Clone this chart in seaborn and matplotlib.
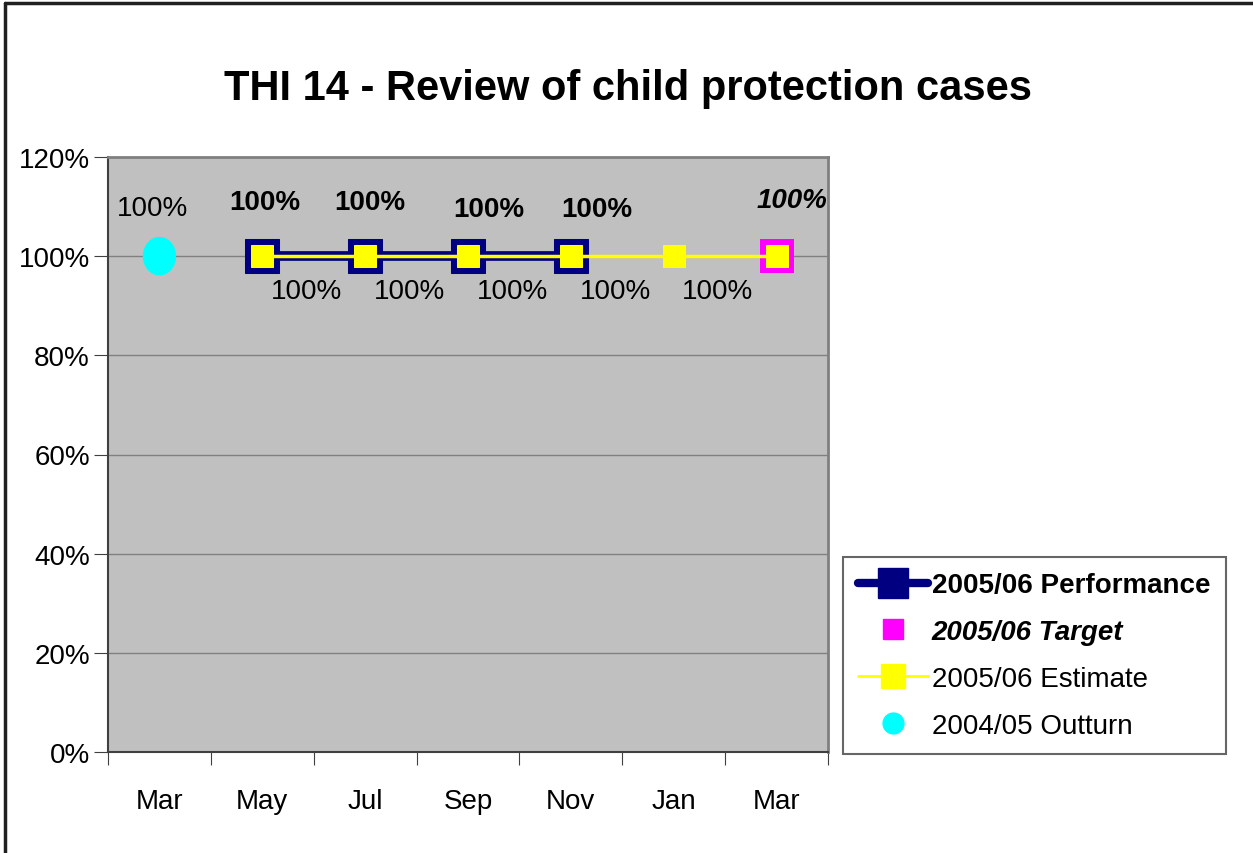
import numpy as np
import pandas as pd
import seaborn as sns
import matplotlib.pyplot as plt
from matplotlib.lines import Line2D
from matplotlib.patches import Ellipse

# datos
meses = ["Mar", "May", "Jul", "Sep", "Nov", "Jan", "Mar"]
outturn = [1.0, None, None, None, None, None, None]
performance = [None, 1.0, 1.0, 1.0, 1.0, None, None]
target = [None, None, None, None, None, None, 1.0]
estimate = [None, 1.0, 1.0, 1.0, 1.0, 1.0, 1.0]

df = pd.DataFrame({"pos": np.arange(len(meses)), "mes": meses,
                   "Outturn": outturn, "Performance": performance,
                   "Target": target, "Estimate": estimate})

sns.set_style("white")
plt.rcParams["font.family"] = ["Liberation Sans", "DejaVu Sans"]
plt.rcParams["text.color"] = "black"
plt.rcParams["xtick.color"] = "black"
plt.rcParams["ytick.color"] = "black"

fig = plt.figure(figsize=(12.53, 8.54), dpi=100)
ax = fig.add_axes([108 / 1253, 1 - 753 / 854, 720 / 1253, 595 / 854])
ax.set_facecolor("#C0C0C0")

perf = df.dropna(subset=["Performance"])
est = df.dropna(subset=["Estimate"])
out = df.dropna(subset=["Outturn"])
tgt = df.dropna(subset=["Target"])

# performance: linea azul gruesa con cuadros grandes
sns.lineplot(data=perf, x="pos", y="Performance", ax=ax, color="#000080", lw=7,
             marker="s", markersize=25, markeredgecolor="#000080", zorder=3)
# target
sns.scatterplot(data=tgt, x="pos", y="Target", ax=ax, color="#FF00FF", marker="s",
                s=24 ** 2, edgecolor="#FF00FF", linewidth=0, zorder=3)
# estimate: linea amarilla fina con cuadros
sns.lineplot(data=est, x="pos", y="Estimate", ax=ax, color="#FFFF00", lw=2.5,
             marker="s", markersize=16, markeredgecolor="#FFFF00", zorder=4)
# outturn (ovalo cian)
for _, r in out.iterrows():
    ax.add_patch(Ellipse((r["pos"], r["Outturn"]), 0.31, 0.075, color="#00FFFF", zorder=4))

# etiquetas
fs = 20
for _, r in out.iterrows():
    ax.text(r["pos"] - 0.07, r["Outturn"] + 0.098, "100%", ha="center", va="center", fontsize=fs)
offs = [0.11, 0.11, 0.095, 0.095]
dx = [0.02, 0.05, 0.2, 0.25]
for i, (_, r) in enumerate(perf.iterrows()):
    ax.text(r["pos"] + dx[i], r["Performance"] + offs[i], "100%", ha="center", va="center",
            fontsize=fs, fontweight="bold")
for _, r in est.iloc[:-1].iterrows():
    ax.text(r["pos"] + 0.43, r["Estimate"] - 0.07, "100%", ha="center", va="center", fontsize=fs)
for _, r in tgt.iterrows():
    ax.text(r["pos"] + 0.15, r["Target"] + 0.113, "100%", ha="center", va="center",
            fontsize=fs, fontweight="bold", style="italic")

ax.set_xlim(-0.5, len(meses) - 0.5)
ax.set_ylim(0, 1.2)
ax.set_yticks(np.arange(0, 1.21, 0.2))
ax.set_yticklabels([f"{int(round(v * 100))}%" for v in np.arange(0, 1.21, 0.2)], fontsize=fs)
ax.set_xticks(np.arange(-0.5, len(meses)), minor=False)
ax.set_xticklabels([])
ax.set_xticks(np.arange(len(meses)), minor=True)
ax.set_xticklabels(meses, minor=True, fontsize=fs)
ax.tick_params(axis="x", which="major", direction="out", length=9, color="#404040", bottom=True)
ax.tick_params(axis="x", which="minor", length=0, pad=26)
ax.tick_params(axis="y", direction="out", length=10, color="#404040", left=True, pad=3)
ax.grid(axis="y", color="#808080", lw=1)
ax.set_axisbelow(True)
ax.set_xlabel("")
ax.set_ylabel("")
for s in ["top", "right"]:
    ax.spines[s].set_color("#808080")
    ax.spines[s].set_linewidth(2)
for s in ["left", "bottom"]:
    ax.spines[s].set_color("#404040")
    ax.spines[s].set_linewidth(1.5)
if ax.get_legend():
    ax.get_legend().remove()

fig.text(628 / 1253, 1 - 89 / 854, "THI 14 - Review of child protection cases", ha="center",
         va="center", fontsize=30, fontweight="bold")

# marco de la figura
fig.add_artist(Line2D([5 / 1253, 5 / 1253], [0, 1 - 4 / 854], color="#202020", lw=2.5))
fig.add_artist(Line2D([5 / 1253, 1], [1 - 4 / 854, 1 - 4 / 854], color="#202020", lw=2.5))

handles = [
    Line2D([], [], color="#000080", lw=6, marker="s", ms=21, solid_capstyle="round"),
    Line2D([], [], color="#FF00FF", lw=0, marker="s", ms=14),
    Line2D([], [], color="#FFFF00", lw=2, marker="s", ms=17),
    Line2D([], [], color="#00FFFF", lw=0, marker="o", ms=15),
]
labels = ["2005/06 Performance", "2005/06 Target", "2005/06 Estimate", "2004/05 Outturn"]
leg = fig.legend(handles, labels, loc="upper left", bbox_to_anchor=(843 / 1253, 1 - 558 / 854),
                 frameon=True, fancybox=False, edgecolor="#404040", fontsize=fs,
                 handlelength=2.5, labelspacing=0.75, borderpad=0.55, handletextpad=0.15,
                 borderaxespad=0)
leg.get_frame().set_linewidth(1.5)
txt = leg.get_texts()
txt[0].set_fontweight("bold")
txt[1].set_fontweight("bold")
txt[1].set_style("italic")

fig.savefig("out.png", dpi=100)
